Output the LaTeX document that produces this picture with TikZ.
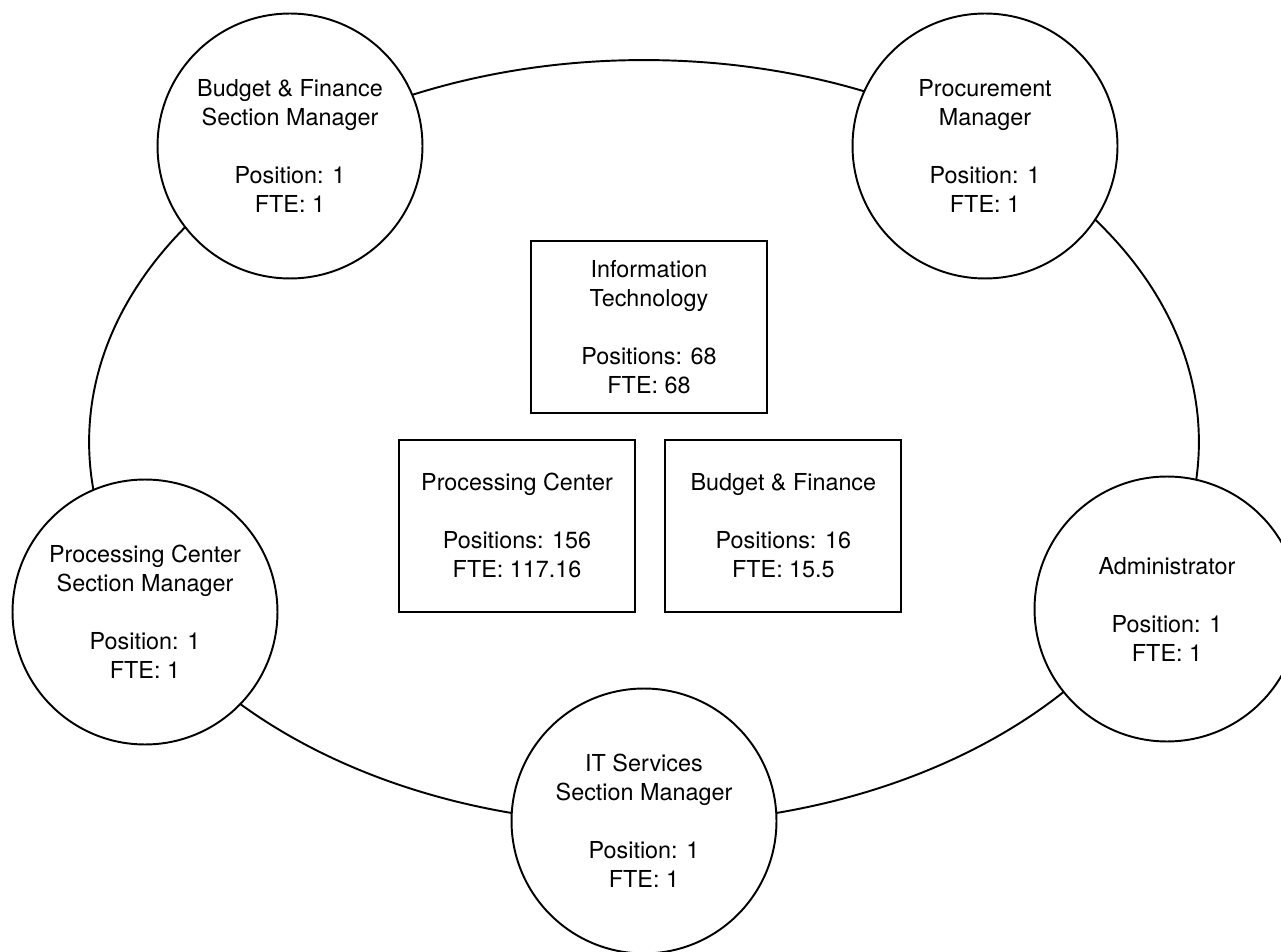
\documentclass[tikz,border=0pt]{standalone}
\usepackage{fontspec}
\setmainfont{TeX Gyre Heros}
\usetikzlibrary{positioning}

\begin{document}
\begin{tikzpicture}[x=0.02cm, y=-0.02cm, line width=1.1pt, font=\fontsize{13.3}{16.5}\selectfont]
  \tikzstyle{post} = [circle, draw, fill=white, align=center, inner sep=0pt, minimum size=5.3cm]
  \tikzstyle{unit} = [rectangle, draw, fill=white, align=center, inner sep=0pt, minimum width=4.72cm, minimum height=3.44cm]

  \useasboundingbox (0,0) rectangle (1281,952);

  \draw (644,442) ellipse [x radius=11.1cm, y radius=7.64cm];

  \node[post] (bfsm) at (290,146) {Budget \& Finance\\Section Manager\\[16.5pt]Position: 1\\FTE: 1};
  \node[post] (proc) at (985,146) {Procurement\\Manager\\[16.5pt]Position: 1\\FTE: 1};
  \node[post] (admin) at (1167,609) {Administrator\\[16.5pt]Position: 1\\FTE: 1};
  \node[post] (itsm) at (644,821) {IT Services\\Section Manager\\[16.5pt]Position: 1\\FTE: 1};
  \node[post] (pcsm) at (145,612) {Processing Center\\Section Manager\\[16.5pt]Position: 1\\FTE: 1};

  \node[unit] (it) at (649,327) {Information\\Technology\\[16.5pt]Positions: 68\\FTE: 68};
  \node[unit, below=0.5cm of it, xshift=-2.64cm] (pc) {Processing Center\\[16.5pt]Positions: 156\\FTE: 117.16};
  \node[unit, right=0.57cm of pc] (bf) {Budget \& Finance\\[16.5pt]Positions: 16\\FTE: 15.5};

\end{tikzpicture}
\end{document}
